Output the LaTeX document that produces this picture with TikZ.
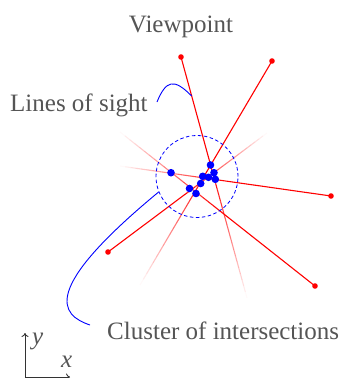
\documentclass[tikz,border=0pt]{standalone}
\usepackage{fontspec}
\setmainfont{Liberation Serif}
\usetikzlibrary{calc,arrows.meta}
\definecolor{txtgray}{RGB}{85,85,85}
\begin{document}
\begin{tikzpicture}[x=1pt,y=-1pt,
  sight/.style={red, line width=1.1pt},
  vp/.style={circle, fill=red, inner sep=0pt, minimum size=5.6pt},
  hit/.style={circle, fill=blue, inner sep=0pt, minimum size=7.6pt},
  leader/.style={blue, line width=0.9pt},
  lbl/.style={text=txtgray, font=\fontsize{25}{30}\selectfont, inner sep=0pt},
  axis/.style={black!80, line width=0.9pt, -{To[length=4pt,width=7pt]}}]
\useasboundingbox (0,0) rectangle (345,378);
% viewpoints and far ends of the lines of sight
\coordinate (v1) at (181,57);  \coordinate (e1) at (247,298);
\coordinate (v2) at (272,61);  \coordinate (e2) at (140,285);
\coordinate (v3) at (331,196); \coordinate (e3) at (120,166);
\coordinate (v4) at (315,286); \coordinate (e4) at (120,132);
\coordinate (v5) at (108,252); \coordinate (e5) at (267,133);
% lines of sight, fading beyond the cluster
\foreach \i in {1,...,5} {
  \draw[sight] (v\i) -- ($(v\i)!0.5!(e\i)$);
  \foreach \k in {0,...,19} {
    \pgfmathsetmacro\ta{0.5+0.025*\k}
    \pgfmathsetmacro\tb{0.5+0.025*(\k+1)}
    \pgfmathsetmacro\op{1-(\k+0.5)/20}
    \draw[sight, draw opacity=\op, line cap=butt] ($(v\i)!\ta!(e\i)$) -- ($(v\i)!\tb!(e\i)$);
  }
}
% viewpoint markers
\foreach \i in {1,...,5} { \node[vp] (dv\i) at (v\i) {}; }
% cluster circle
\node[draw=blue, dashed, dash pattern=on 3.5pt off 2.5pt, line width=0.8pt, circle,
      minimum size=82pt, inner sep=0pt] (cluster) at (197,176.5) {};
% intersections
\node[hit] (h1) at (171,172.7) {};
\node[hit] (h2) at (210.5,165) {};
\node[hit] (h3) at (202.7,176.3) {};
\node[hit] (h4) at (208.5,177.3) {};
\node[hit] (h5) at (214,172.7) {};
\node[hit] (h6) at (215.3,179.3) {};
\node[hit] (h7) at (200.7,183.5) {};
\node[hit] (h8) at (189.5,188.5) {};
\node[hit] (h9) at (196,193.5) {};
% labels
\node[lbl, anchor=base] (vpt) at (181,32) {Viewpoint};
\node[lbl, anchor=base west] (los) at (10,111) {Lines of sight};
\node[lbl, anchor=base west] (coi) at (107,339) {Cluster of intersections};
% leaders
\coordinate (losA) at (157,102);
\coordinate (losB) at ($(v1)!0.162!(e1)$);
\draw[leader] (losA) .. controls (166,80) and (174,78) .. (losB);
\coordinate (coiB) at (90,325);
\draw[leader] (cluster.202) .. controls (40,290) and (60,315) .. (coiB);
% axes
\coordinate (o) at (25,377);
\coordinate (ay) at (25,333);
\coordinate (ax) at (70,377);
\draw[axis] (o) -- (ay);
\draw[axis] (o) -- (ax);
\node[lbl, anchor=base west] (ly) at (32,344) {\textit{y}};
\node[lbl, anchor=base west] (lx) at (61,367) {\textit{x}};
\end{tikzpicture}
\end{document}
